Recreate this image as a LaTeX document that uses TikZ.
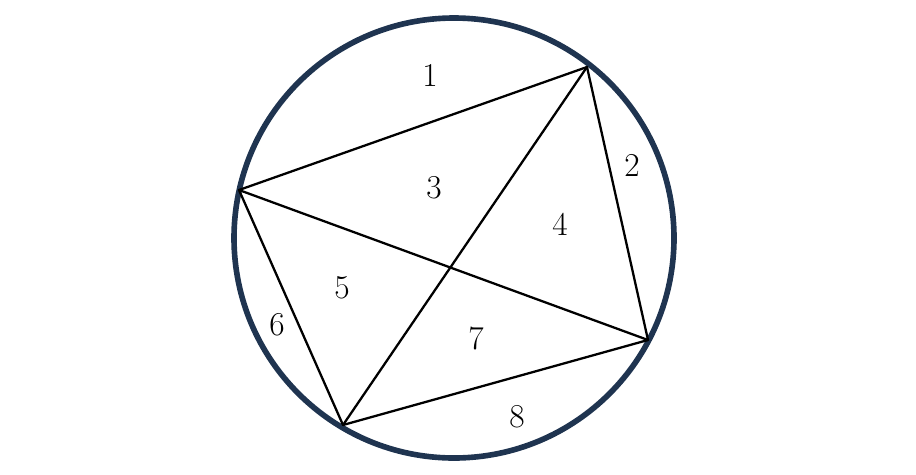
\documentclass[tikz,border=0pt]{standalone}
\usepackage{amsmath,amsfonts,amssymb}
\usepackage{xcolor}
\usepackage{tikz}
\usetikzlibrary{shapes,arrows,positioning}
\definecolor{rim}{HTML}{1F3450}
\tikzstyle{region} = [font=\fontsize{19}{22}\selectfont, inner sep=0pt]
\tikzstyle{chord} = [line width=1.3pt, line cap=round, line join=round]
\tikzstyle{rimline} = [draw=rim, line width=3.2pt]

\begin{document}
\begin{tikzpicture}[x=0.02cm, y=-0.02cm]
    \useasboundingbox (0,0) rectangle (916,474);
    % Circle
    \draw [rimline] (454,238) circle [radius=220];
    % Points on the circle
    \coordinate (a) at (239,190);
    \coordinate (b) at (587,67);
    \coordinate (c) at (648,340);
    \coordinate (d) at (343,425);
    
    % Chords
    \draw [chord] (a) -- (b) -- (c) -- (d) -- cycle;
    \draw [chord] (a) -- (c);
    \draw [chord] (b) -- (d);
    
    % Regions
    \node [region] (r1) at (430,75) {1};
    \node [region] (r2) at (632,165) {2};
    \node [region] (r3) at (434,188) {3};
    \node [region] (r4) at (560,224) {4};
    \node [region] (r5) at (342,288) {5};
    \node [region] (r6) at (277,325) {6};
    \node [region] (r7) at (476,338) {7};
    \node [region] (r8) at (517,417) {8};
\end{tikzpicture}
\end{document}
